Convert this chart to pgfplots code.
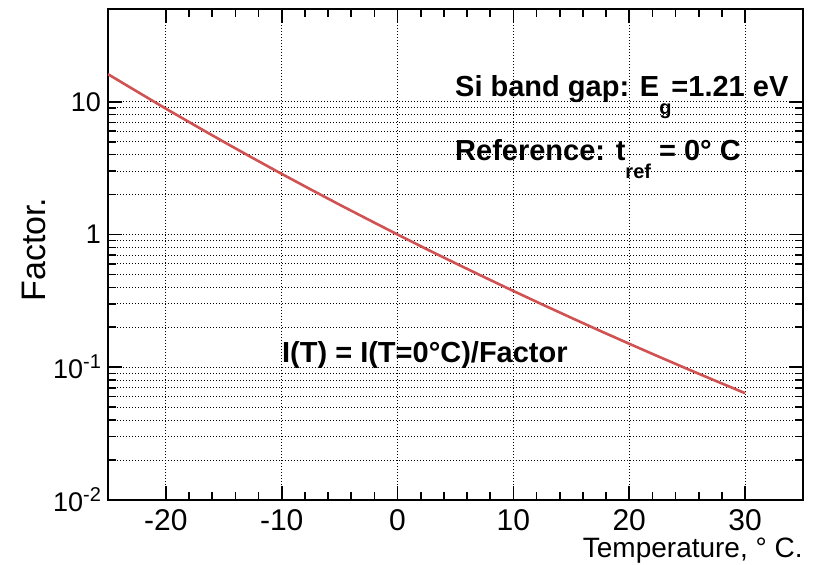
\documentclass[border=0pt]{standalone}
\usepackage{pgfplots}
\pgfplotsset{compat=1.18}
\usepackage{fontspec}
\setmainfont{Liberation Sans}
\definecolor{curvered}{RGB}{208,82,82}
\newcommand{\subs}[1]{\raisebox{-9pt}{\fontsize{10}{10}\selectfont #1}}
\begin{document}
\begin{tikzpicture}
\path[use as bounding box] (-54pt,-32.5pt) rectangle (353.5pt,250pt);
\begin{axis}[
  at={(0,0)}, anchor=south west,
  scale only axis,
  width=347.5pt, height=245.5pt,
  xmin=-25, xmax=35,
  ymode=log, ymin=0.01, ymax=50,
  xtick={-20,-10,0,10,20,30},
  xticklabels={-20,-10,0,10,20,30},
  minor x tick num=4,
  ytick={0.01,0.1,1,10},
  yticklabels={10\raisebox{5pt}{\fontsize{10}{10}\selectfont -2},10\raisebox{5pt}{\fontsize{10}{10}\selectfont -1},1,10},
  tick pos=both,
  tick align=inside,
  major tick length=7pt,
  minor tick length=4pt,
  every tick/.style={black, line width=0.8pt},
  axis line style={line width=1pt},
  xmajorgrids, ymajorgrids, yminorgrids,
  grid style={black, line width=0.5pt, dash pattern=on 0.5pt off 1pt},
  minor grid style={black, line width=0.5pt, dash pattern=on 0.5pt off 1pt},
  xticklabel style={font=\fontsize{15}{15}\selectfont, yshift=-1pt},
  yticklabel style={font=\fontsize{13.5}{13.5}\selectfont},
  xlabel={Temperature, ° C.},
  xlabel style={font=\fontsize{14}{14}\selectfont, at={(axis description cs:1,0)}, anchor=base east, yshift=-29pt, inner sep=0pt},
  ylabel={Factor.},
  ylabel style={font=\fontsize{17}{17}\selectfont, at={(axis description cs:-0.0906,0.51)}, anchor=base, inner sep=0pt},
  clip=true,
]
\addplot[curvered, line width=1.3pt, no marks] coordinates {
(-25,16.14) (-22.5,11.95) (-20,8.870) (-17.5,6.641) (-15,4.986) (-12.5,3.768) (-10,2.861)
(-7.5,2.186) (-5,1.6758) (-2.5,1.2930) (0,1.0) (2.5,0.7765) (5,0.6075) (7.5,0.4766) (10,0.37545)
(12.5,0.2970) (15,0.23576) (17.5,0.1878) (20,0.15033) (22.5,0.1207) (25,0.09726) (27.5,0.0787) (30,0.06380)
};
\node[anchor=base west, inner sep=0pt, font=\fontsize{14.5}{14.5}\selectfont\bfseries] at (rel axis cs:0.499,0.821) {Si band gap: E\subs{g}=1.21 eV};
\node[anchor=base west, inner sep=0pt, font=\fontsize{14.5}{14.5}\selectfont\bfseries] at (rel axis cs:0.499,0.692) {Reference: t\subs{ref} = 0° C};
\node[anchor=base west, inner sep=0pt, font=\fontsize{14.5}{14.5}\selectfont\bfseries] at (rel axis cs:0.25,0.281) {I(T) = I(T=0°C)/Factor};
\end{axis}
\end{tikzpicture}
\end{document}
